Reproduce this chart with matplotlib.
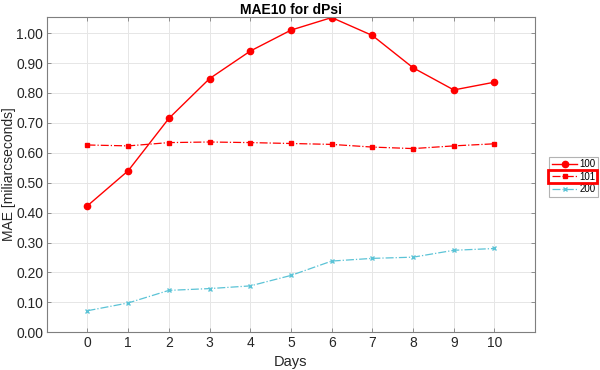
import matplotlib
matplotlib.use("Agg")
import matplotlib.pyplot as plt
from matplotlib.patches import Rectangle

plt.rcParams['font.family'] = ['Liberation Sans', 'DejaVu Sans']

days = [0, 1, 2, 3, 4, 5, 6, 7, 8, 9, 10]
s100 = [0.423, 0.540, 0.715, 0.848, 0.940, 1.010, 1.052, 0.992, 0.884, 0.810, 0.836]
s101 = [0.626, 0.623, 0.634, 0.636, 0.634, 0.631, 0.628, 0.619, 0.614, 0.623, 0.630]
s200 = [0.072, 0.098, 0.140, 0.146, 0.155, 0.190, 0.238, 0.247, 0.251, 0.274, 0.280]
yticks = [0.0, 0.1, 0.2, 0.3, 0.4, 0.5, 0.6, 0.7, 0.8, 0.9, 1.0]

fig = plt.figure(figsize=(6, 3.7), dpi=100)
ax = fig.add_axes([0.078, 0.102, 0.814, 0.853])

ax.plot(days, s100, '-', color='#ff0000', marker='o', markersize=4.5, lw=1.0, label='100')
ax.plot(days, s101, '-.', color='#ff0000', marker='s', markersize=3, lw=0.9, label='101')
ax.plot(days, s200, '-.', color='#5bc3d6', marker='x', markersize=3.5, mew=1.0, lw=0.9, label='200')

ax.set_xlim(-1, 11)
ax.set_ylim(0, 1.055)
ax.set_xticks(days)
ax.set_yticks(yticks)
ax.set_yticklabels([f"{v:.2f}" for v in yticks])
ax.grid(True, color='#e6e6e6', lw=0.7)
ax.set_axisbelow(True)
for s in ax.spines.values():
    s.set_color('#7f7f7f')
    s.set_linewidth(0.8)
ax.tick_params(direction='in', top=True, right=True, labelcolor='#262626', labelsize=10,
               length=3, width=0.6, color='#7f7f7f', pad=2.5)

ax.set_title('MAE10 for dPsi', fontsize=10, fontweight='bold', pad=2)
ax.set_xlabel('Days', fontsize=10.5, color='#262626', labelpad=4)
ax.set_ylabel('MAE [miliarcseconds]', fontsize=10, color='#262626', labelpad=0)

leg = fig.legend(loc='upper left', bbox_to_anchor=(0.915, 0.577), fontsize=7,
                 frameon=True, fancybox=False, edgecolor='#a0a0a0', handlelength=2.6,
                 handletextpad=0.2, borderpad=0.3, labelspacing=0.25, borderaxespad=0)
leg.get_frame().set_linewidth(0.8)

fig.canvas.draw()
renderer = fig.canvas.get_renderer()
tb = leg.get_texts()[1].get_window_extent(renderer)
fb = leg.get_frame().get_window_extent(renderer)
inv = fig.transFigure.inverted()
(fx0, fy0) = inv.transform((fb.x0 - 1, tb.y0 - 1.5))
(fx1, fy1) = inv.transform((fb.x1 - 1, tb.y1 + 1.5))
fig.add_artist(Rectangle((fx0, fy0), fx1 - fx0, fy1 - fy0, transform=fig.transFigure,
                         fill=False, edgecolor='#ff0000', lw=2.0, zorder=10))

fig.savefig('out.png', dpi=100)
